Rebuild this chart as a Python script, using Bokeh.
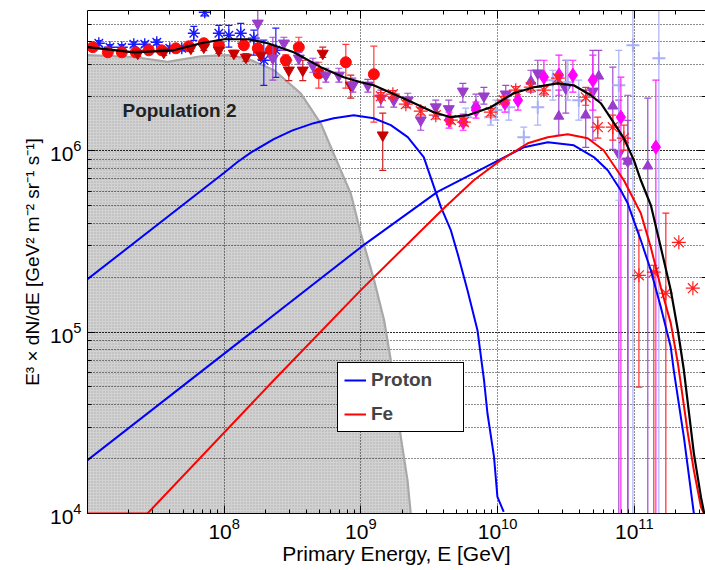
import numpy as np
from bokeh.plotting import figure
from bokeh.models import LogAxis, Legend, LegendItem, Label, Range1d
from bokeh.embed import file_html
from bokeh.resources import INLINE

FONT = "Liberation Sans"

# ---------------- model curves: log10(E / GeV) and log10(E^3 dN/dE) ----------------
pop2_lgE = [7.0, 7.341, 7.585, 7.829, 8.024, 8.170, 8.365, 8.560, 8.707, 8.853, 8.926, 9.0, 9.097, 9.170, 9.219, 9.292, 9.341, 9.365]
pop2_lgF = [6.528, 6.518, 6.491, 6.522, 6.528, 6.510, 6.445, 6.317, 6.151, 5.893, 5.765, 5.544, 5.287, 5.066, 4.846, 4.423, 4.184, 4.0]

prot1_lgE = [7.0, 8.0, 8.1, 8.2, 8.363, 8.5, 8.655, 8.802, 8.948, 9.094, 9.219, 9.343, 9.460, 9.585, 9.658, 9.707, 9.780, 9.853, 9.901, 9.926, 9.974, 9.999, 10.045]
prot1_lgF = [5.292, 5.880, 5.940, 5.993, 6.065, 6.113, 6.153, 6.180, 6.197, 6.180, 6.142, 6.076, 5.966, 5.691, 5.563, 5.436, 5.232, 5.011, 4.735, 4.553, 4.312, 4.092, 4.009]

prot3_lgE = [7.0, 9.0, 9.560, 9.826, 10.192, 10.368, 10.558, 10.704, 10.806, 10.901, 10.952, 11.048, 11.121, 11.194, 11.267, 11.289, 11.363, 11.436]
prot3_lgF = [4.294, 5.469, 5.774, 5.877, 6.020, 6.048, 6.031, 5.966, 5.893, 5.783, 5.711, 5.507, 5.342, 5.139, 4.918, 4.790, 4.421, 4.0]

fe_lgE = [7.0, 7.439, 8.363, 9.0, 9.607, 9.826, 10.023, 10.221, 10.367, 10.513, 10.659, 10.776, 10.924, 11.048, 11.121, 11.194, 11.267, 11.319, 11.392, 11.436, 11.488, 11.51]
fe_lgF = [4.0, 4.0, 4.735, 5.232, 5.684, 5.838, 5.949, 6.042, 6.075, 6.092, 6.070, 6.004, 5.838, 5.656, 5.469, 5.248, 5.050, 4.829, 4.442, 4.238, 4.035, 4.0]

tot_lgE = [7.0, 7.339, 7.631, 7.829, 8.0, 8.173, 8.319, 8.509, 8.707, 8.875, 9.0, 9.094, 9.343, 9.533, 9.658, 9.783, 9.950, 10.118, 10.265, 10.440, 10.557, 10.682, 10.755, 10.828, 10.923, 10.997, 11.048, 11.121, 11.194, 11.267, 11.319, 11.363, 11.436, 11.488, 11.512]
tot_lgF = [6.572, 6.544, 6.555, 6.594, 6.616, 6.616, 6.594, 6.544, 6.462, 6.406, 6.379, 6.362, 6.280, 6.213, 6.186, 6.197, 6.241, 6.318, 6.351, 6.373, 6.362, 6.307, 6.263, 6.181, 6.071, 5.949, 5.838, 5.701, 5.469, 5.232, 5.011, 4.790, 4.332, 4.090, 4.0]

# ---------------- measurements: log10 E, log10 flux, error low / high ----------------
rc_E = [7.039, 7.149, 7.251, 7.353, 7.448, 7.543, 7.646, 7.741, 7.851, 7.961, 8.144, 8.246, 8.341, 8.451, 8.546, 8.692, 8.890, 9.095]
rc_F = [6.572, 6.544, 6.544, 6.544, 6.555, 6.555, 6.566, 6.577, 6.594, 6.583, 6.583, 6.566, 6.555, 6.500, 6.572, 6.428, 6.489, 6.423]
rc_lo = [6.555, 6.527, 6.527, 6.527, 6.538, 6.538, 6.549, 6.560, 6.577, 6.566, 6.560, 6.540, 6.528, 6.470, 6.517, 6.346, 6.346, 6.159]
rc_hi = [6.589, 6.561, 6.561, 6.561, 6.572, 6.572, 6.583, 6.594, 6.611, 6.600, 6.606, 6.592, 6.582, 6.530, 6.627, 6.489, 6.588, 6.578]

dt_E = [7.368, 7.558, 7.756, 7.851, 7.961, 8.071, 8.159, 8.268, 8.473, 8.575, 8.721, 8.926, 9.160]
dt_F = [6.538, 6.544, 6.566, 6.572, 6.555, 6.538, 6.516, 6.527, 6.445, 6.445, 6.538, 6.362, 6.087]
dt_lo = [6.521, 6.527, 6.549, 6.555, 6.538, 6.521, 6.495, 6.505, 6.388, 6.388, 6.516, 6.291, 5.893]
dt_hi = [6.555, 6.561, 6.583, 6.589, 6.572, 6.555, 6.537, 6.549, 6.500, 6.500, 6.572, 6.418, 6.208]

ba_E = [7.083, 7.164, 7.251, 7.339, 7.419, 7.507, 7.602, 7.690, 7.778, 7.858, 7.961, 8.034, 8.121, 8.217, 8.290, 8.378]
ba_F = [6.594, 6.572, 6.572, 6.588, 6.588, 6.599, 6.566, 6.566, 6.649, 6.765, 6.649, 6.638, 6.649, 6.622, 6.500, 6.555]
ba_lo = [6.580, 6.558, 6.558, 6.574, 6.574, 6.585, 6.552, 6.552, 6.610, 6.745, 6.600, 6.572, 6.594, 6.528, 6.362, 6.406]
ba_hi = [6.608, 6.586, 6.586, 6.602, 6.602, 6.613, 6.580, 6.580, 6.687, 6.785, 6.693, 6.693, 6.704, 6.666, 6.611, 6.677]

pd_E = [8.246, 8.356, 8.437, 8.546, 8.649, 8.744, 8.839, 8.941, 9.051, 9.146, 9.241, 9.343, 9.438, 9.548, 9.643, 9.746, 9.900, 10.060, 10.294, 10.499, 10.697, 10.887, 10.953]
pd_F = [6.704, 6.511, 6.594, 6.511, 6.472, 6.417, 6.417, 6.362, 6.362, 6.291, 6.280, 6.280, 6.170, 6.242, 6.232, 6.329, 6.302, 6.313, 6.429, 6.346, 6.329, 5.986, 5.943]
pd_lo = [6.611, 6.390, 6.555, 6.478, 6.434, 6.379, 6.379, 6.324, 6.324, 6.241, 6.241, 6.241, 6.114, 6.191, 6.186, 6.269, 6.258, 6.269, 6.351, 6.208, 6.059, 3.5, 3.5]
pd_hi = [6.776, 6.627, 6.627, 6.544, 6.511, 6.456, 6.456, 6.401, 6.395, 6.335, 6.318, 6.318, 6.235, 6.280, 6.280, 6.373, 6.351, 6.362, 6.500, 6.500, 6.555, 6.280, 6.169]

pu_E = [9.842, 10.244, 10.448, 10.645, 10.740, 10.843, 10.953, 11.099]
pu_F = [6.252, 6.384, 6.191, 6.197, 6.412, 6.247, 5.943, 5.916]
pu_lo = [6.224, 6.324, 6.086, 6.020, 6.280, 6.009, 3.5, 3.5]
pu_hi = [6.313, 6.445, 6.335, 6.335, 6.555, 6.462, 6.307, 6.291]

md_E = [9.645, 9.748, 9.842, 10.054, 10.149, 10.339, 10.449, 10.551, 10.697, 10.902, 11.158]
md_F = [6.170, 6.159, 6.225, 6.264, 6.280, 6.407, 6.418, 6.418, 6.390, 6.186, 6.021]
md_lo = [6.126, 6.114, 6.181, 6.214, 6.225, 6.307, 6.307, 6.324, 6.225, 3.5, 3.5]
md_hi = [6.214, 6.203, 6.269, 6.307, 6.335, 6.500, 6.528, 6.500, 6.528, 6.407, 6.390]

lb_E = [9.767, 9.950, 9.987, 10.082, 10.192, 10.294, 10.404, 10.514, 10.594, 10.887, 10.990, 11.180]
lb_F = [6.186, 6.186, 6.225, 6.241, 6.076, 6.241, 6.390, 6.379, 6.280, 6.362, 6.583, 6.511]
lb_lo = [6.142, 6.142, 6.170, 6.170, 6.021, 6.142, 6.280, 6.280, 6.170, 5.728, 3.5, 3.5]
lb_hi = [6.236, 6.236, 6.280, 6.307, 6.131, 6.335, 6.445, 6.500, 6.390, 6.555, 7.5, 7.5]

ra_E = [9.146, 9.234, 9.329, 9.438, 9.548, 9.658, 9.753, 9.950, 10.045, 10.133, 10.243, 10.339, 10.441, 10.645, 10.733, 10.843, 10.924, 11.034, 11.143, 11.231, 11.326, 11.429]
ra_F = [6.302, 6.313, 6.258, 6.219, 6.197, 6.170, 6.159, 6.214, 6.280, 6.335, 6.352, 6.335, 6.401, 6.296, 6.131, 6.131, 6.070, 5.314, 5.331, 5.215, 5.496, 5.243]
ra_lo = [6.282, 6.293, 6.238, 6.199, 6.177, 6.150, 6.139, 6.194, 6.260, 6.315, 6.332, 6.315, 6.381, 6.252, 6.070, 6.059, 6.004, 4.697, 3.5, 3.5, 5.496, 5.243]
ra_hi = [6.322, 6.333, 6.278, 6.239, 6.217, 6.190, 6.179, 6.234, 6.300, 6.355, 6.372, 6.355, 6.421, 6.351, 6.186, 6.197, 6.142, 5.563, 5.369, 5.657, 5.496, 5.243]


def ten(a):
    return [10.0 ** v for v in a]


p = figure(width=705, height=570, x_axis_type="log", y_axis_type="log",
           x_range=Range1d(1.0005e7, 3.32e11), y_range=Range1d(1e4, 5.95e6),
           output_backend="svg", toolbar_location=None,
           min_border_left=87, min_border_right=0, min_border_top=10, min_border_bottom=57)
p.outline_line_color = None
p.background_fill_color = "white"
p.border_fill_color = "white"

# grid
for g in p.xgrid:
    g.grid_line_color = "black"
    g.grid_line_dash = "1 2"
    g.grid_line_alpha = 0.9
for g in p.ygrid:
    g.grid_line_color = "black"
    g.grid_line_dash = "1 2"
    g.grid_line_alpha = 0.9
    g.minor_grid_line_color = "black"
    g.minor_grid_line_dash = "1 2"
    g.minor_grid_line_alpha = 0.9

# axes
for ax in list(p.xaxis) + list(p.yaxis):
    ax.major_tick_in = 8
    ax.major_tick_out = 0
    ax.minor_tick_in = 4
    ax.minor_tick_out = 0
    ax.axis_line_color = "black"
    ax.major_tick_line_color = "black"
    ax.minor_tick_line_color = "black"
    ax.major_label_text_font = FONT
    ax.major_label_text_font_size = "21px"
    ax.major_label_text_color = "black"
    ax.axis_label_text_font = FONT
    ax.axis_label_text_font_style = "normal"
    ax.axis_label_text_color = "black"
p.xaxis.axis_label = "Primary Energy, E [GeV]"
p.xaxis.axis_label_text_font_size = "21px"
p.xaxis.major_label_standoff = 4
p.xaxis.axis_label_standoff = 0
p.yaxis.axis_label = "E\u00b3 \u00d7 dN/dE [GeV\u00b2 m\u207b\u00b2 sr\u207b\u00b9 s\u207b\u00b9]"
p.yaxis.axis_label_text_font_size = "19px"
p.yaxis.major_label_standoff = 6
p.yaxis.axis_label_standoff = 4

top_ax = LogAxis(major_tick_in=8, major_tick_out=0, minor_tick_in=4, minor_tick_out=0,
                 major_label_text_font_size="1px", major_label_text_color=None,
                 major_label_standoff=0, axis_line_color="black")
p.add_layout(top_ax, "above")
right_ax = LogAxis(major_tick_in=8, major_tick_out=0, minor_tick_in=4, minor_tick_out=0,
                   major_label_text_font_size="1px", major_label_text_color=None,
                   major_label_standoff=0, axis_line_color=None)
p.add_layout(right_ax, "right")

# Population 2 shaded region
pE = ten(pop2_lgE)
pF = ten(pop2_lgF)
y0 = p.y_range.start
patch_x = pE + [pE[-1], pE[0]]
patch_y = pF + [y0, y0]
p.patch(patch_x, patch_y, fill_color="#d2d2d2", line_color=None,
        hatch_pattern="dot", hatch_color="#adadad", hatch_scale=3, hatch_weight=1,
        level="image")
p.line(pE, pF, line_color="#a8a8a8", line_width=2.2)

p.add_layout(Label(x=10 ** 7.256, y=10 ** 6.165, text="Population 2", text_font=FONT,
                   text_font_size="19px", text_font_style="bold", text_color="#222222"))


def series(lgE, lgF, lo, hi, marker, color, size, ecolor, fill=True, lw=1.0, ew=1.2, ealpha=1.0):
    E = ten(lgE)
    F = ten(lgF)
    L = ten(lo)
    H = ten(hi)
    p.segment(x0=E, y0=L, x1=E, y1=H, line_color=ecolor, line_width=ew, line_alpha=ealpha)
    cx = [e for e, l, h in zip(E, L, H) if h > l]
    cl = [l for e, l, h in zip(E, L, H) if h > l]
    ch = [h for e, l, h in zip(E, L, H) if h > l]
    p.scatter(cx + cx, cl + ch, marker="dash", size=7, line_color=ecolor, line_width=ew,
              line_alpha=ealpha)
    p.scatter(E, F, marker=marker, size=size, line_color=color, line_width=lw,
              fill_color=color if fill else None)


series(ba_E, ba_F, ba_lo, ba_hi, "asterisk", "#1a1aff", 12, "#1a1aff", fill=False, lw=1.4)
series(rc_E, rc_F, rc_lo, rc_hi, "circle", "#ff0a0a", 11, "#ff3a3a")
series(dt_E, dt_F, dt_lo, dt_hi, "inverted_triangle", "#c80000", 11, "#d02020")
series(pd_E, pd_F, pd_lo, pd_hi, "inverted_triangle", "#9a3ccc", 11, "#a04ad0")
series(pu_E, pu_F, pu_lo, pu_hi, "triangle", "#9a3ccc", 10, "#a04ad0")
series(lb_E, lb_F, lb_lo, lb_hi, "cross", "#a8b0f8", 13, "#aab2f8", fill=False, lw=2)
series(md_E, md_F, md_lo, md_hi, "diamond", "#ff00ff", 14, "#ff20ff")
series(ra_E, ra_F, ra_lo, ra_hi, "asterisk", "#ff2020", 14, "#ff2a2a", fill=False, lw=1.2)

# model curves
l_p1 = p.line(ten(prot1_lgE), ten(prot1_lgF), line_color="#0000ff", line_width=2)
l_p3 = p.line(ten(prot3_lgE), ten(prot3_lgF), line_color="#0000ff", line_width=2)
l_fe = p.line(ten(fe_lgE), ten(fe_lgF), line_color="#ff0000", line_width=2)
l_tot = p.line(ten(tot_lgE), ten(tot_lgF), line_color="black", line_width=2.2)

legend = Legend(items=[LegendItem(label="Proton", renderers=[l_p3]),
                       LegendItem(label="Fe", renderers=[l_fe])],
                location=(250, 81), orientation="vertical",
                label_text_font=FONT, label_text_font_size="19px", label_text_font_style="bold",
                border_line_color="black", border_line_width=1, border_line_alpha=1,
                background_fill_color="white", background_fill_alpha=1,
                glyph_width=22, glyph_height=20, label_height=20, label_width=86,
                label_standoff=5, spacing=12, padding=6, margin=0)
p.add_layout(legend)

open("out.html", "w").write(file_html(p, INLINE))
